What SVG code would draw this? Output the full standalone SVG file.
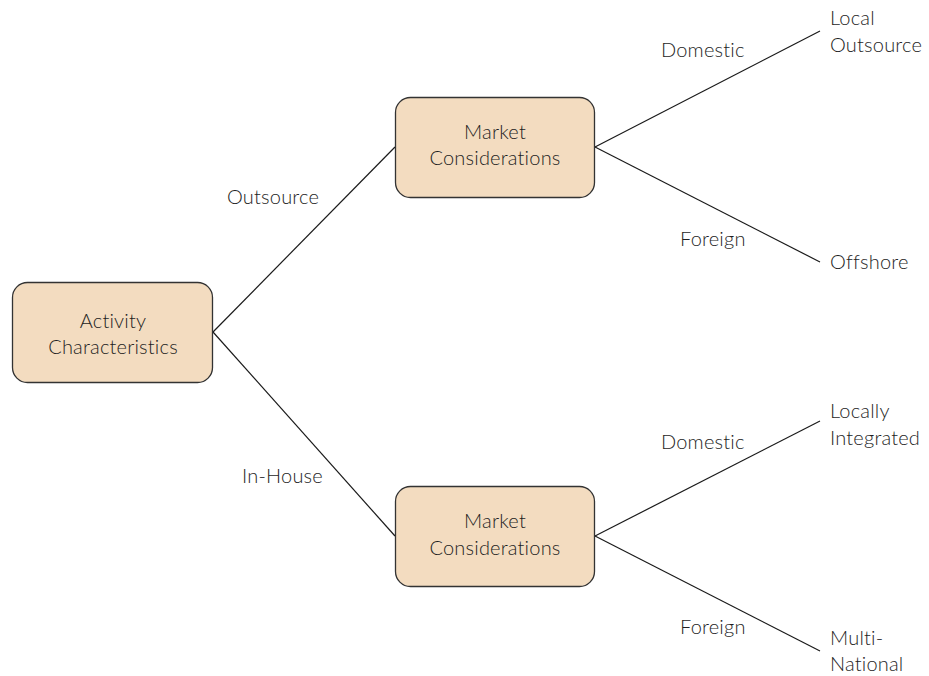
<svg xmlns="http://www.w3.org/2000/svg" width="929" height="676" viewBox="0 0 929 676">
<style>
.box{fill:#f3dcc0;stroke:#333;stroke-width:1.3}
.t{font-family:Lato,"Liberation Sans",sans-serif;font-weight:300;font-size:20px;letter-spacing:0.2px;fill:#1e1e1e}
.c{text-anchor:middle}
.ln{stroke:#1a1a1a;stroke-width:1.2;fill:none}
</style>
<rect width="929" height="676" fill="#fff"/>
<g id="connectors">
<line class="ln" x1="213" y1="332" x2="395" y2="147"/>
<line class="ln" x1="213" y1="332" x2="395" y2="536"/>
<line class="ln" x1="595" y1="147" x2="820" y2="31"/>
<line class="ln" x1="595" y1="147" x2="820" y2="262"/>
<line class="ln" x1="595" y1="536" x2="820" y2="421"/>
<line class="ln" x1="595" y1="536" x2="820" y2="651"/>
</g>
<g id="activity">
<rect class="box" x="12.5" y="282.5" width="200" height="100" rx="15"/>
<text class="t c" x="113" y="328">Activity</text>
<text class="t c" x="113" y="354">Characteristics</text>
</g>
<g id="market-top">
<rect class="box" x="395.5" y="97.5" width="199" height="100" rx="15"/>
<text class="t c" x="495" y="139">Market</text>
<text class="t c" x="495" y="165">Considerations</text>
</g>
<g id="market-bottom">
<rect class="box" x="395.5" y="486.5" width="199" height="100" rx="15"/>
<text class="t c" x="495" y="528">Market</text>
<text class="t c" x="495" y="555">Considerations</text>
</g>
<g id="labels">
<text class="t" x="227" y="204">Outsource</text>
<text class="t" x="242" y="483">In-House</text>
<text class="t" x="661" y="57">Domestic</text>
<text class="t" x="680" y="246">Foreign</text>
<text class="t" x="661" y="449">Domestic</text>
<text class="t" x="680" y="634">Foreign</text>
</g>
<g id="local-outsource"><text class="t" x="830" y="25">Local</text><text class="t" x="830" y="52">Outsource</text></g>
<g id="offshore"><text class="t" x="830" y="269">Offshore</text></g>
<g id="locally-integrated"><text class="t" x="830" y="418">Locally</text><text class="t" x="830" y="445">Integrated</text></g>
<g id="multi-national"><text class="t" x="830" y="645">Multi-</text><text class="t" x="830" y="671">National</text></g>
</svg>
